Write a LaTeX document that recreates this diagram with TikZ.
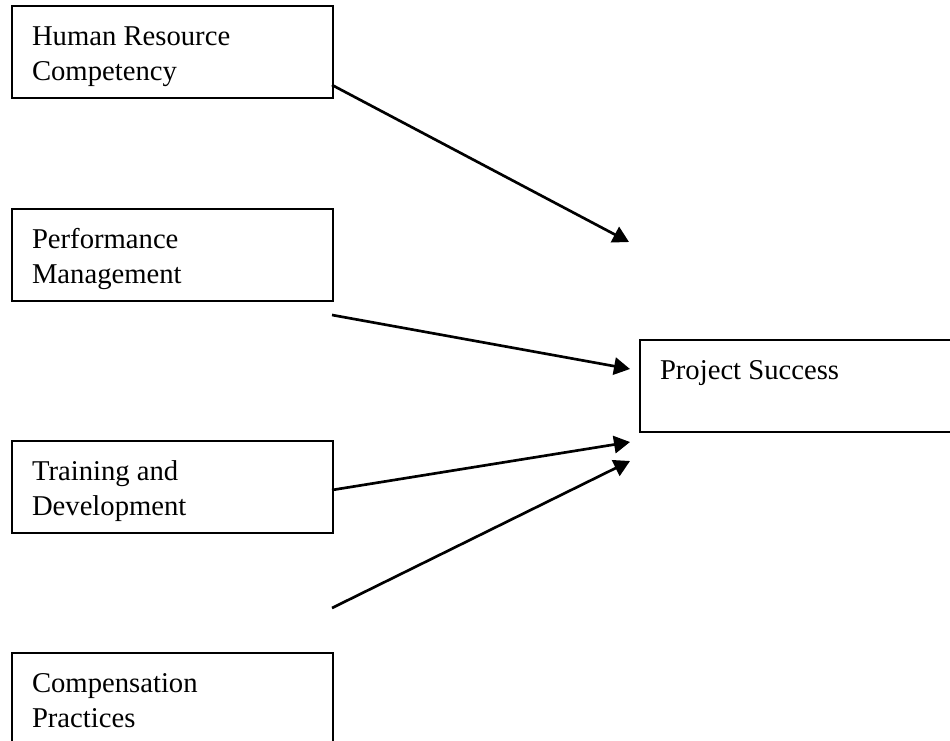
\documentclass[tikz,border=0pt]{standalone}
\usepackage{fontspec}
\setmainfont{Liberation Serif}
\usetikzlibrary{arrows.meta}
% invisible struts that fix the first baseline and the last depth of each label
\newcommand\firstln{\rule{0pt}{21.75pt}}
\newcommand\lastln{\rule[-6pt]{0pt}{0pt}}
\begin{document}
\begin{tikzpicture}[x=0.75pt,y=-0.75pt,
  box/.style={draw, line width=1.1pt, anchor=north west, outer sep=0pt,
    minimum width=240.75pt, minimum height=69pt, inner xsep=15pt, inner ysep=0pt,
    text width=210.75pt, align=flush left,
    font=\fontsize{21.5pt}{26.25pt}\selectfont},
  link/.style={line width=2pt, -{Triangle[length=12pt,width=13pt]}}]
\useasboundingbox (0,0) rectangle (950,740);

% factor boxes on the left
\node[box] (hrc) at (12,6)   {\firstln Human Resource\\Competency\lastln};
\node[box] (pm)  at (12,209) {\firstln Performance\\Management\lastln};
\node[box] (td)  at (12,441) {\firstln Training and\\Development\lastln};
\node[box] (cp)  at (12,653) {\firstln Compensation\\Practices\lastln};

% outcome box on the right
\node[box] (ps)  at (640,340) {\firstln Project Success\\\lastln};

% arrow ends
\coordinate (s1) at (332,85);   \coordinate (t1) at (629,242);
\coordinate (s2) at (332,315);  \coordinate (t2) at (630,369);
\coordinate (s3) at (332,490);  \coordinate (t3) at (630,442);
\coordinate (s4) at (332,608);  \coordinate (t4) at (630,461);

\draw[link] (s1) -- (t1);
\draw[link] (s2) -- (t2);
\draw[link] (s3) -- (t3);
\draw[link] (s4) -- (t4);
\end{tikzpicture}
\end{document}
